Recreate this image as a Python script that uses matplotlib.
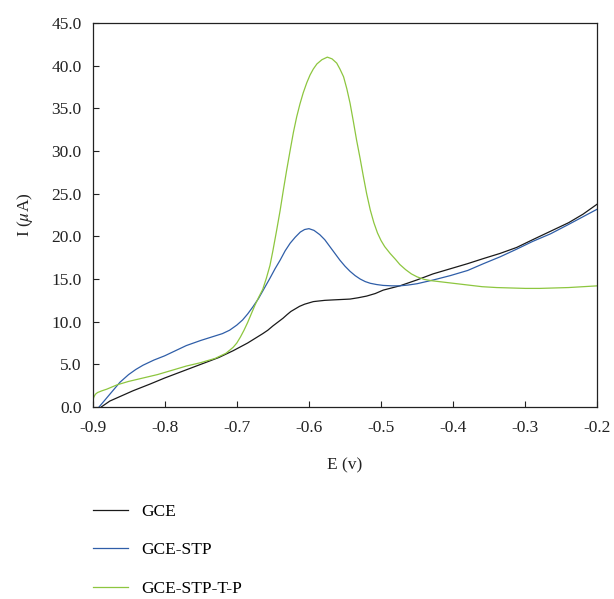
import matplotlib
matplotlib.use('Agg')
import matplotlib.pyplot as plt

# DATA
e_gce = [-0.888, -0.882, -0.876, -0.868, -0.86, -0.844, -0.82, -0.80, -0.775, -0.75,
         -0.725, -0.705, -0.685, -0.664, -0.657, -0.65, -0.643, -0.636, -0.63, -0.625,
         -0.619, -0.613, -0.606, -0.60, -0.594, -0.589, -0.578, -0.567, -0.555, -0.543,
         -0.532, -0.52, -0.508, -0.497, -0.474, -0.45, -0.428, -0.404, -0.38, -0.358,
         -0.335, -0.312, -0.29, -0.265, -0.24, -0.22, -0.20]
i_gce = [0.0, 0.35, 0.7, 1.0, 1.3, 1.9, 2.7, 3.4, 4.2, 5.0,
         5.8, 6.6, 7.5, 8.6, 9.0, 9.5, 9.95, 10.4, 10.85, 11.2,
         11.5, 11.8, 12.05, 12.2, 12.35, 12.4, 12.5, 12.55, 12.6, 12.65,
         12.8, 13.0, 13.3, 13.7, 14.2, 14.9, 15.6, 16.2, 16.8, 17.4,
         18.0, 18.7, 19.6, 20.6, 21.6, 22.6, 23.8]

e_stp = [-0.891, -0.885, -0.878, -0.87, -0.862, -0.85, -0.84, -0.83, -0.815, -0.80,
         -0.785, -0.77, -0.76, -0.75, -0.735, -0.72, -0.71, -0.70, -0.692, -0.685,
         -0.678, -0.67, -0.664, -0.654, -0.647, -0.64, -0.633, -0.626, -0.619, -0.612,
         -0.606, -0.60, -0.593, -0.585, -0.578, -0.571, -0.564, -0.557, -0.55, -0.543,
         -0.536, -0.529, -0.522, -0.515, -0.506, -0.497, -0.485, -0.474, -0.462, -0.45,
         -0.427, -0.404, -0.38, -0.358, -0.335, -0.312, -0.29, -0.265, -0.24, -0.22, -0.20]
i_stp = [0.0, 0.6, 1.3, 2.1, 2.9, 3.8, 4.4, 4.9, 5.5, 6.0,
         6.6, 7.2, 7.5, 7.8, 8.2, 8.6, 9.0, 9.6, 10.2, 10.9,
         11.7, 12.7, 13.6, 15.1, 16.2, 17.2, 18.3, 19.2, 19.9, 20.5,
         20.8, 20.9, 20.7, 20.2, 19.6, 18.8, 18.0, 17.2, 16.5, 15.9,
         15.4, 15.0, 14.7, 14.5, 14.35, 14.25, 14.2, 14.2, 14.3, 14.45,
         14.9, 15.4, 16.0, 16.8, 17.6, 18.5, 19.4, 20.3, 21.4, 22.3, 23.2]

e_stptp = [-0.900, -0.898, -0.896, -0.893, -0.887, -0.88, -0.866, -0.85, -0.83, -0.81,
           -0.79, -0.77, -0.75, -0.73, -0.715, -0.705, -0.70, -0.695, -0.69, -0.685,
           -0.68, -0.675, -0.67, -0.664, -0.659, -0.654, -0.65, -0.645, -0.64, -0.6355,
           -0.631, -0.626, -0.6215, -0.617, -0.6125, -0.608, -0.603, -0.5985, -0.594, -0.589,
           -0.582, -0.5745, -0.568, -0.5615, -0.557, -0.552, -0.5475, -0.543, -0.5385, -0.534,
           -0.529, -0.5245, -0.52, -0.515, -0.51, -0.505, -0.50, -0.495, -0.4875, -0.48,
           -0.474, -0.466, -0.458, -0.45, -0.44, -0.43, -0.40, -0.38, -0.36, -0.34,
           -0.32, -0.30, -0.28, -0.26, -0.24, -0.22, -0.20]
i_stptp = [0.7, 1.2, 1.5, 1.7, 1.9, 2.1, 2.6, 3.0, 3.4, 3.8,
           4.3, 4.8, 5.2, 5.7, 6.3, 7.0, 7.5, 8.2, 9.0, 9.9,
           10.9, 11.9, 12.8, 13.8, 15.1, 16.6, 18.3, 20.6, 23.0, 25.4,
           27.7, 30.1, 32.2, 34.0, 35.5, 36.8, 38.0, 38.9, 39.6, 40.2,
           40.7, 41.0, 40.8, 40.3, 39.6, 38.7, 37.3, 35.6, 33.5, 31.3,
           29.1, 27.0, 25.0, 23.1, 21.6, 20.4, 19.5, 18.8, 18.0, 17.3,
           16.7, 16.1, 15.6, 15.25, 14.95, 14.8, 14.5, 14.3, 14.1, 14.0,
           13.95, 13.9, 13.9, 13.95, 14.0, 14.1, 14.2]

labels = ['GCE', 'GCE-STP', 'GCE-STP-T-P']
colors = ['#1a1a1a', '#2f5ea8', '#8dc63f']

# PLOTTING
plt.rcParams['font.family'] = ['Liberation Serif', 'DejaVu Serif']
plt.rcParams['mathtext.fontset'] = 'stix'
fs = 12.5

fig = plt.figure(figsize=(6.14, 5.99), dpi=100)
ax = fig.add_axes([0.1507, 0.3205, 0.8224, 0.6411])
ax.plot(e_gce, i_gce, color=colors[0], lw=0.9, label=labels[0])
ax.plot(e_stp, i_stp, color=colors[1], lw=0.9, label=labels[1])
ax.plot(e_stptp, i_stptp, color=colors[2], lw=0.9, label=labels[2])

ax.set_xlim(-0.9, -0.2)
ax.set_ylim(0, 45)
ax.set_xticks([-0.9, -0.8, -0.7, -0.6, -0.5, -0.4, -0.3, -0.2])
ax.set_xticklabels(['-0.9', '-0.8', '-0.7', '-0.6', '-0.5', '-0.4', '-0.3', '-0.2'])
ax.set_yticks(range(0, 46, 5))
ax.set_yticklabels(['%.1f' % v for v in range(0, 46, 5)])
ax.tick_params(direction='in', length=4, width=0.8, labelsize=fs, color='#222222',
               labelcolor='#222222')
ax.tick_params(axis='x', pad=9)
ax.tick_params(axis='y', pad=8)
for s in ax.spines.values():
    s.set_linewidth(0.9)
    s.set_color('#222222')
ax.set_xlabel('E (v)', fontsize=fs, color='#222222', labelpad=16)
ax.set_ylabel(r'I ($\mu$A)', fontsize=fs, color='#222222', labelpad=12)

fig.legend(loc='upper left', bbox_to_anchor=(0.14, 0.171), frameon=False, fontsize=fs,
           handlelength=2.0, handletextpad=0.8, labelspacing=1.3, borderaxespad=0)

plt.savefig('out.png', dpi=100)
